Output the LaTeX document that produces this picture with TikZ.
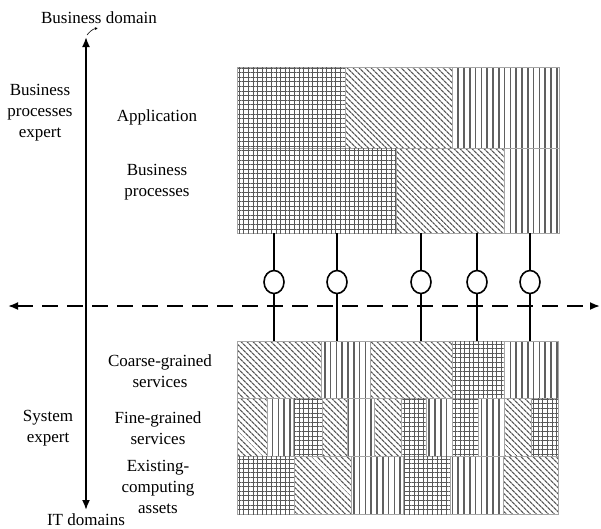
\documentclass[tikz,border=0pt]{standalone}
\usepackage{fontspec}
\setmainfont{Liberation Serif}
\usetikzlibrary{patterns.meta,arrows.meta,shapes.geometric}
\begin{document}
\begin{tikzpicture}[x=1pt,y=-1pt,
  lbl/.style={align=center,font=\fontsize{17}{21}\selectfont,inner sep=0pt},
  cellbase/.style={draw=gray!70,line width=0.7pt},
  cellG/.style={cellbase,
    preaction={pattern={Lines[angle=0,distance=4.6pt,line width=0.9pt]},pattern color=gray!70!black},
    postaction={pattern={Lines[angle=90,distance=4.6pt,line width=0.9pt]},pattern color=gray!70!black}},
  cellD/.style={cellbase,
    pattern={Lines[angle=-45,distance=4pt,line width=1.3pt]},pattern color=gray!70!black},
  cellV/.style={cellbase,
    pattern={Lines[angle=90,distance=5.8pt,line width=1.6pt]},pattern color=gray!75!black},
  conn/.style={line width=1.8pt,black},
  ell/.style={ellipse,draw,fill=white,line width=1.6pt,minimum width=20pt,minimum height=23pt,inner sep=0pt},
  axis/.style={line width=1.8pt,{Latex[length=10pt,width=8pt]}-{Latex[length=10pt,width=8pt]}},
  dashax/.style={line width=1.8pt,dash pattern=on 16pt off 9pt,{Latex[length=10pt,width=8pt]}-{Latex[length=10pt,width=8pt]}}
]
\useasboundingbox (0,0) rectangle (601,528);

% top block
\foreach \a/\b/\t in {237/345/G,345/452/D,452/559/V}
  {\draw[cell\t] (\a,67) rectangle (\b,148);}
\foreach \a/\b/\t in {237/396/G,396/504/D,504/559/V}
  {\draw[cell\t] (\a,148) rectangle (\b,233);}

% bottom block
\foreach \a/\b/\t in {237/321/D,321/370/V,370/452/D,452/504/G,504/558/V}
  {\draw[cell\t] (\a,341) rectangle (\b,398);}
\foreach \a/\b/\t in {237/267/D,267/293/V,293/322/G,322/347/D,347/374/V,374/401/D,401/426/G,426/452/V,452/478/G,478/504/V,504/531/D,531/558/G}
  {\draw[cell\t] (\a,398) rectangle (\b,456);}
\foreach \a/\b/\t in {237/294/G,294/351/D,351/403/V,403/450/G,450/503/V,503/558/D}
  {\draw[cell\t] (\a,456) rectangle (\b,514);}

% axes
\coordinate (dl) at (8,306);
\coordinate (dr) at (600,306);
\draw[dashax] (dl) -- (dr);
\coordinate (vt) at (86,37);
\coordinate (vb) at (86,510);
\draw[axis] (vt) -- (vb);
\coordinate (sq1) at (87,35);
\coordinate (sq2) at (98,28);
\draw[line width=0.6pt,-{Latex[length=3pt,width=3pt]}] (sq1) to[bend left=20] (sq2);

% connectors
\foreach \i/\x in {1/274,2/337,3/421,4/477,5/530}{
  \coordinate (t\i) at (\x,233);
  \coordinate (b\i) at (\x,341);
  \node[ell] (c\i) at (\x,282) {};
  \draw[conn] (t\i) -- (c\i.north);
  \draw[conn] (c\i.south) -- (b\i);
}

% labels
\node[lbl] (bd) at (99,18) {Business domain};
\node[lbl] (bpe) at (40,113) {Business\\processes\\expert};
\node[lbl] (app) at (157,117) {Application};
\node[lbl] (bp) at (157,182) {Business\\processes};
\node[lbl] (cgs) at (160,371) {Coarse-grained\\services};
\node[lbl] (se) at (48,428) {System\\expert};
\node[lbl] (fgs) at (158,428) {Fine-grained\\services};
\node[lbl] (eca) at (158,487) {Existing-\\computing\\assets};
\node[lbl,anchor=south] (itd) at (86,526) {IT domains};
\end{tikzpicture}
\end{document}
